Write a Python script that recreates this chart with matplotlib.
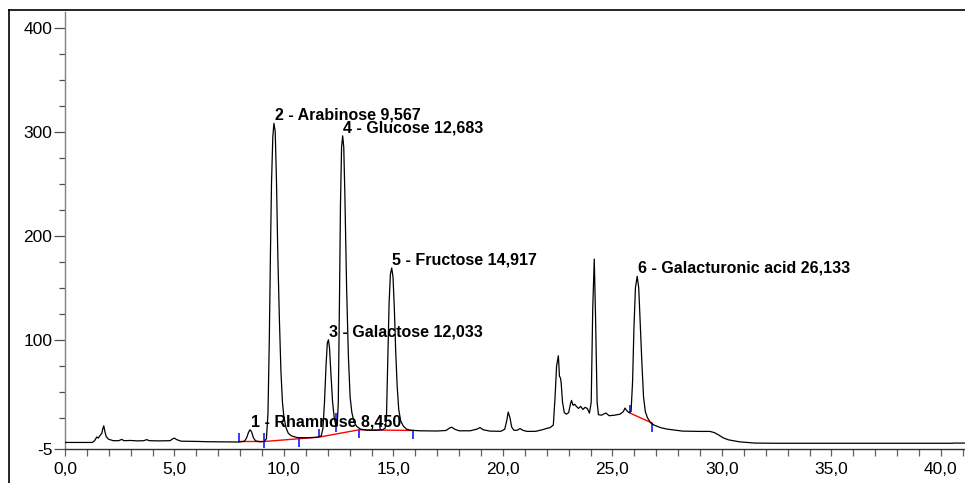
import matplotlib
matplotlib.use("Agg")
import matplotlib.pyplot as plt
from matplotlib.ticker import MultipleLocator, FixedLocator, FuncFormatter
from matplotlib.lines import Line2D

plt.rcParams['font.family'] = ['Liberation Sans', 'DejaVu Sans']

# Detector trace: retention time (min) and signal
time_min = [
    0.0, 1.25, 1.35, 1.45, 1.52, 1.6, 1.68, 1.72, 1.77, 1.82, 1.88, 1.98, 2.2, 2.45, 2.59, 2.7,
    3.0, 3.3, 3.6, 3.73, 3.85, 4.3, 4.8, 4.9, 4.99, 5.1, 5.3, 6.0, 6.5, 7.5, 7.95,
    8.2, 8.3, 8.38, 8.45, 8.52, 8.6, 8.7, 8.9, 9.1,
    9.2, 9.27, 9.33, 9.38, 9.43, 9.49, 9.54, 9.6, 9.66, 9.72, 9.79, 9.86, 9.93, 10.0,
    10.1, 10.2, 10.35, 10.6, 11.0, 11.5, 11.7,
    11.78, 11.85, 11.92, 11.98, 12.03, 12.08, 12.15, 12.22, 12.3, 12.38, 12.43,
    12.48, 12.53, 12.58, 12.63, 12.68, 12.73, 12.78, 12.86, 12.94, 13.02, 13.1, 13.2,
    13.32, 13.5, 13.8, 14.2, 14.5, 14.62,
    14.68, 14.74, 14.8, 14.86, 14.92, 14.98, 15.04, 15.1, 15.17, 15.24, 15.33, 15.45,
    15.6, 15.8, 16.2, 17.0, 17.4, 17.55, 17.66, 17.8, 18.0, 18.5, 18.8, 18.95, 19.1,
    19.4, 19.9, 20.08, 20.17, 20.24, 20.32, 20.4, 20.5, 20.65, 20.78, 20.9, 21.1,
    21.5, 21.8, 22.0, 22.15, 22.3, 22.38, 22.45, 22.53, 22.58, 22.63, 22.66, 22.72,
    22.8, 22.9, 23.0, 23.08, 23.13, 23.2, 23.28, 23.35, 23.45, 23.55, 23.65, 23.75,
    23.85, 23.95, 24.03, 24.1, 24.17, 24.23, 24.3, 24.36, 24.5, 24.7, 24.85, 25.1,
    25.35, 25.5, 25.57, 25.65, 25.75, 25.85,
    25.92, 25.98, 26.05, 26.13, 26.2, 26.28, 26.35, 26.42, 26.5, 26.6, 26.75, 26.9,
    27.2, 27.5, 28.2, 29.0, 29.45, 29.65, 29.85, 30.05, 30.3, 30.8, 31.5, 32.5,
    40.5, 40.6, 41.1,
]
signal = [
    1.3, 1.3, 3.0, 6.5, 5.5, 8.0, 10.0, 14.0, 17.3, 12.0, 7.0, 4.5, 3.0, 3.0, 4.2, 3.0,
    3.2, 2.8, 3.0, 4.0, 3.0, 2.8, 3.0, 4.5, 5.5, 4.0, 2.5, 2.3, 2.0, 1.8, 1.7,
    2.5, 6.0, 11.0, 13.5, 11.5, 6.0, 2.8, 2.0, 2.2,
    5.0, 30.0, 100.0, 180.0, 250.0, 295.0, 308.0, 300.0, 250.0, 180.0, 120.0, 70.0, 40.0, 25.0,
    15.0, 10.0, 7.5, 6.0, 5.8, 6.2, 7.5,
    15.0, 40.0, 75.0, 97.0, 100.0, 92.0, 65.0, 40.0, 24.0, 17.0, 17.0,
    40.0, 130.0, 230.0, 285.0, 296.0, 285.0, 240.0, 150.0, 85.0, 45.0, 30.0, 21.0,
    16.7, 14.0, 13.0, 13.0, 13.5, 15.0,
    25.0, 80.0, 135.0, 163.0, 169.0, 160.0, 130.0, 90.0, 55.0, 33.0, 22.0, 17.0,
    14.0, 13.0, 12.5, 12.3, 12.8, 15.0, 16.0, 14.0, 12.5, 12.5, 14.0, 15.6, 13.5,
    12.2, 12.0, 14.0, 22.0, 30.5, 25.0, 16.0, 13.0, 13.0, 14.7, 13.0, 11.9,
    12.0, 13.5, 14.8, 15.5, 18.0, 45.0, 75.0, 84.6, 65.0, 63.0, 58.0, 40.0,
    30.0, 28.5, 30.0, 38.0, 41.7, 37.0, 38.0, 36.0, 34.0, 36.0, 33.0, 35.0,
    34.0, 29.5, 40.0, 130.0, 177.6, 120.0, 40.0, 28.0, 27.5, 29.6, 27.0, 27.5,
    28.5, 31.0, 34.3, 32.0, 30.0, 31.0,
    60.0, 110.0, 150.0, 161.0, 150.0, 110.0, 75.0, 45.0, 31.0, 25.0, 20.0, 18.0,
    15.5, 14.1, 12.2, 11.9, 11.9, 10.8, 8.5, 5.8, 3.8, 1.9, 0.7, 0.5,
    0.5, 0.7, 0.7,
]

# Identified peaks: number, compound, retention time, apex height
peak_no = [1, 2, 3, 4, 5, 6]
peak_name = ["Rhamnose", "Arabinose", "Galactose", "Glucose", "Fructose", "Galacturonic acid"]
peak_rt = [8.450, 9.567, 12.033, 12.683, 14.917, 26.133]
peak_height = [13.5, 308.0, 100.0, 296.0, 169.0, 161.0]

# Integration baselines (red)
base1_t = [7.95, 9.09, 11.6, 13.44, 15.9]
base1_v = [2.2, 2.2, 6.4, 13.5, 12.8]
base2_t = [25.8, 26.82]
base2_v = [29.5, 19.9]

# Peak start / end markers (blue): time, lower and upper signal
mark_t = [7.95, 9.09, 10.68, 11.6, 12.36, 13.44, 14.38, 15.9, 25.8, 26.82]
mark_lo = [2.0, -3.8, -2.9, 6.7, 10.9, 5.8, 13.5, 4.8, 29.5, 11.0]
mark_hi = [10.6, 10.6, 5.8, 14.4, 30.0, 13.5, 21.0, 12.8, 37.5, 20.0]

x_major = [0, 5, 10, 15, 20, 25, 30, 35, 40]
y_major = [-5, 100, 200, 300, 400]
y_minor = [25, 50, 75, 125, 150, 175, 225, 250, 275, 325, 350, 375]

fig = plt.figure(figsize=(9.65, 4.83), dpi=100)
ax = fig.add_axes([65 / 965, 34 / 483, 900 / 965, 437 / 483])

ax.plot(base1_t, base1_v, color="#ff0000", lw=1.0, zorder=2)
ax.plot(base2_t, base2_v, color="#ff0000", lw=1.0, zorder=2)
ax.vlines(mark_t, mark_lo, mark_hi, color="#2a2aff", lw=1.3, zorder=2)
ax.plot(time_min, signal, color="black", lw=0.9, zorder=3)

for n, name, rt, h in zip(peak_no, peak_name, peak_rt, peak_height):
    label = f"{n} - {name} {rt:.3f}".replace(".", ",")
    ax.annotate(label, xy=(rt, h), xytext=(0.5, 2.5), textcoords="offset points",
                ha="left", va="baseline", fontsize=11.5, fontweight="bold", zorder=4)

ax.set_xlim(0, 41.1)
ax.set_ylim(-5, 415)

ax.xaxis.set_major_locator(FixedLocator(x_major))
ax.xaxis.set_minor_locator(MultipleLocator(1))
ax.yaxis.set_major_locator(FixedLocator(y_major))
ax.yaxis.set_minor_locator(FixedLocator(y_minor))
ax.xaxis.set_major_formatter(FuncFormatter(lambda v, p: f"{v:.1f}".replace(".", ",")))
ax.yaxis.set_major_formatter(FuncFormatter(lambda v, p: f"{v:.0f}"))

ax.tick_params(axis="x", which="both", direction="out", length=5, width=0.9,
               color="#606060", labelsize=12.5, pad=4)
ax.tick_params(axis="y", which="major", direction="out", length=8, width=0.9,
               color="#505050", labelsize=12.5, pad=1)
ax.tick_params(axis="y", which="minor", direction="out", length=4, width=0.9,
               color="#505050")

for side in ("top", "right"):
    ax.spines[side].set_visible(False)
ax.spines["left"].set_color("#808080")
ax.spines["left"].set_linewidth(1.0)
ax.spines["bottom"].set_color("#303030")
ax.spines["bottom"].set_linewidth(1.0)

# outer frame (left and top edges)
fig.add_artist(Line2D([9 / 965, 9 / 965], [0, 1 - 10 / 483], color="black", lw=1.2,
                      transform=fig.transFigure))
fig.add_artist(Line2D([9 / 965, 1], [1 - 10 / 483, 1 - 10 / 483], color="black", lw=1.2,
                      transform=fig.transFigure))

fig.savefig("out.png", dpi=100)
